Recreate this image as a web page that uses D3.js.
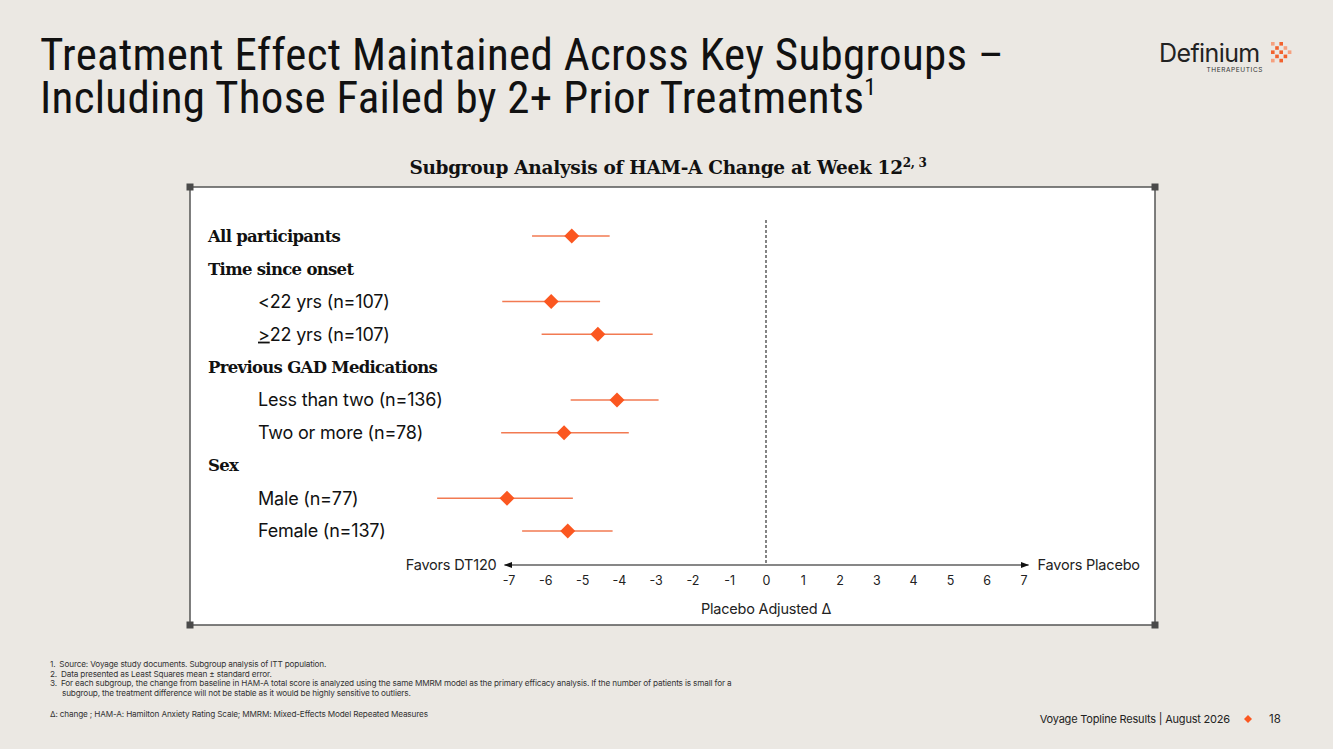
<!DOCTYPE html>
<html>
<head>
<meta charset="utf-8">
<script src="https://cdn.jsdelivr.net/npm/d3@7"></script>
<style>
  body { margin: 0; background: #ebe8e3; }
  svg { display: block; }
</style>
</head>
<body>
<div id="chart"></div>
<script>
// rows of the forest plot, top to bottom
var rowLabels = ["All participants", "Time since onset", "<22 yrs (n=107)", ">22 yrs (n=107)",
                 "Previous GAD Medications", "Less than two (n=136)", "Two or more (n=78)",
                 "Sex", "Male (n=77)", "Female (n=137)"]
var rowIsHeader = [true, true, false, false, true, false, false, true, false, false]
// placebo adjusted delta (LS mean) and +/- SE bounds, null for header rows
var estimate = [-5.28, null, -5.84, -4.57, null, -4.05, -5.49, null, -7.04, -5.39]
var lower    = [-6.36, null, -7.17, -6.10, null, -5.31, -7.20, null, -8.94, -6.63]
var upper    = [-4.25, null, -4.51, -3.08, null, -2.92, -3.73, null, -5.25, -4.17]
var xTicks = [-7, -6, -5, -4, -3, -2, -1, 0, 1, 2, 3, 4, 5, 6, 7]

var footnotes = [
  "1.\u2002Source: Voyage study documents. Subgroup analysis of ITT population.",
  "2.\u2002Data presented as Least Squares mean \u00b1 standard error.",
  "3.\u2002For each subgroup, the change from baseline in HAM-A total score is analyzed using the same MMRM model as the primary efficacy analysis. If the number of patients is small for a",
  "\u2003\u2002subgroup, the treatment difference will not be stable as it would be highly sensitive to outliers."
]

var width = 1333, height = 749
var orange = "#fb5720"
var sans = "Inter, 'Open Sans', sans-serif"
var serif = "'DejaVu Serif', 'Liberation Serif', serif"

var svg = d3.select("#chart").append("svg")
            .attr("width", width)
            .attr("height", height)

svg.append("rect").attr("width", width).attr("height", height).attr("fill", "#ebe8e3")

// slide title
var title = svg.append("text")
    .attr("font-family", "'Liberation Sans Narrow', 'Roboto Condensed', sans-serif")
    .attr("font-size", 45)
    .attr("letter-spacing", 0.3)
    .attr("fill", "#111")
title.append("tspan").attr("x", 40).attr("y", 70).text("Treatment Effect Maintained Across Key Subgroups \u2013")
title.append("tspan").attr("x", 40).attr("y", 113).text("Including Those Failed by 2+ Prior Treatments")
title.append("tspan").attr("font-size", 24).attr("dy", -18).text("1")

// logo
svg.append("text").attr("x", 1159).attr("y", 62)
   .attr("font-family", sans).attr("font-size", 25).attr("fill", "#222")
   .attr("letter-spacing", -0.6).text("Definium")
svg.append("text").attr("x", 1263).attr("y", 72).attr("text-anchor", "end")
   .attr("font-family", sans).attr("font-size", 6.5).attr("fill", "#333")
   .attr("letter-spacing", 0.6).text("THERAPEUTICS")
var logoDots = [[0,0],[2,0],[1,1],[3,1],[0,2],[2,2],[4,2],[1,3],[3,3],[0,4],[2,4]]
svg.append("g").attr("transform", "translate(1271,42)")
   .selectAll("rect").data(logoDots).enter().append("rect")
   .attr("x", d => d[0] * 4.2).attr("y", d => d[1] * 4.2)
   .attr("width", 3.6).attr("height", 3.6)
   .attr("fill", (d, i) => i % 3 == 0 ? "#f6a07e" : "#f2622e")

// chart subtitle
var sub = svg.append("text").attr("x", 668).attr("y", 174).attr("text-anchor", "middle")
   .attr("font-family", serif).attr("font-weight", "bold").attr("font-size", 18.5)
   .attr("letter-spacing", -0.3).attr("fill", "#111")
sub.append("tspan").text("Subgroup Analysis of HAM-A Change at Week 12")
sub.append("tspan").attr("font-size", 12).attr("dy", -7).text("2, 3")

// framed panel
var box = {x0: 190, y0: 187, x1: 1155, y1: 625}
svg.append("rect").attr("x", box.x0).attr("y", box.y0)
   .attr("width", box.x1 - box.x0).attr("height", box.y1 - box.y0)
   .attr("fill", "#fff").attr("stroke", "#555").attr("stroke-width", 1.5)
svg.selectAll(".corner").data([[box.x0, box.y0], [box.x1, box.y0], [box.x0, box.y1], [box.x1, box.y1]])
   .enter().append("rect").attr("class", "corner")
   .attr("x", d => d[0] - 3.5).attr("y", d => d[1] - 3.5)
   .attr("width", 7).attr("height", 7).attr("fill", "#4a4a4a")

// scales
var x = d3.scaleLinear().domain([-7, 7]).range([508.5, 1023.5])
var y = d3.scalePoint().domain(d3.range(rowLabels.length)).range([236, 531])
var axisY = 565

// row labels
var labels = svg.append("g").selectAll("text").data(rowLabels).enter().append("text")
    .attr("x", (d, i) => rowIsHeader[i] ? 208 : 258)
    .attr("y", (d, i) => y(i))
    .attr("dy", "0.35em")
    .attr("font-family", (d, i) => rowIsHeader[i] ? serif : sans)
    .attr("font-weight", (d, i) => rowIsHeader[i] ? "bold" : "normal")
    .attr("letter-spacing", (d, i) => rowIsHeader[i] ? -0.7 : -0.2)
    .attr("font-size", (d, i) => rowIsHeader[i] ? 16.5 : 18)
    .attr("fill", "#111")
labels.each(function(d) {
  var el = d3.select(this)
  if (d[0] == ">") {
    el.append("tspan").attr("text-decoration", "underline").text(">")
    el.append("tspan").text(d.slice(1))
  } else {
    el.text(d)
  }
})

// zero reference line
svg.append("line")
   .attr("x1", x(0)).attr("x2", x(0)).attr("y1", 220).attr("y2", axisY)
   .attr("stroke", "#333").attr("stroke-width", 1.2).attr("stroke-dasharray", "3,2")

// axis with arrows
var defs = svg.append("defs")
defs.append("marker").attr("id", "arr").attr("viewBox", "0 0 10 10")
    .attr("refX", 9).attr("refY", 5).attr("markerWidth", 7).attr("markerHeight", 7)
    .attr("orient", "auto-start-reverse")
    .append("path").attr("d", "M0,1.5 L10,5 L0,8.5 Z").attr("fill", "#111")
svg.append("line")
   .attr("x1", x(-7) - 4).attr("x2", x(7) + 5).attr("y1", axisY).attr("y2", axisY)
   .attr("stroke", "#111").attr("stroke-width", 1.2)
   .attr("marker-start", "url(#arr)").attr("marker-end", "url(#arr)")

var xAxis = svg.append("g").attr("transform", "translate(0," + (axisY + 4) + ")")
   .call(d3.axisBottom(x).tickValues(xTicks).tickSize(0).tickPadding(7).tickFormat(d3.format("d")))
xAxis.select(".domain").remove()
xAxis.selectAll("text").attr("font-family", sans).attr("font-size", 12.5).attr("fill", "#222")
     .text(d => d < 0 ? "-" + Math.abs(d) : d)

svg.append("text").attr("x", x(-7) - 12).attr("y", axisY).attr("dy", "0.35em")
   .attr("text-anchor", "end").attr("font-family", sans).attr("font-size", 14.5).attr("fill", "#222")
   .attr("letter-spacing", -0.2).text("Favors DT120")
svg.append("text").attr("x", x(7) + 14).attr("y", axisY).attr("dy", "0.35em")
   .attr("font-family", sans).attr("font-size", 14.5).attr("fill", "#222")
   .attr("letter-spacing", -0.2).text("Favors Placebo")
svg.append("text").attr("x", x(0)).attr("y", 614).attr("text-anchor", "middle")
   .attr("font-family", sans).attr("font-size", 14.5).attr("fill", "#222")
   .attr("letter-spacing", -0.2).text("Placebo Adjusted \u0394")

// error bars and diamonds
var pts = d3.range(rowLabels.length).filter(i => estimate[i] != null)
svg.append("g").selectAll("line").data(pts).enter().append("line")
   .attr("x1", i => x(lower[i])).attr("x2", i => x(upper[i]))
   .attr("y1", i => y(i)).attr("y2", i => y(i))
   .attr("stroke", "#f27a52").attr("stroke-width", 1.5)
svg.append("g").selectAll("path").data(pts).enter().append("path")
   .attr("transform", i => "translate(" + x(estimate[i]) + "," + y(i) + ")")
   .attr("d", "M0,-7.5 L7.5,0 L0,7.5 L-7.5,0 Z")
   .attr("fill", orange)

// footnotes
svg.append("g").selectAll("text").data(footnotes).enter().append("text")
   .attr("x", 50).attr("y", (d, i) => 667 + i * 9.5)
   .attr("font-family", sans).attr("font-size", 8.2).attr("fill", "#333")
   .attr("letter-spacing", -0.15).text(d => d)
svg.append("text").attr("x", 50).attr("y", 717)
   .attr("font-family", sans).attr("font-size", 8.2).attr("fill", "#333")
   .attr("letter-spacing", -0.15)
   .text("\u0394: change ; HAM-A: Hamilton Anxiety Rating Scale; MMRM: Mixed-Effects Model Repeated Measures")

// footer
svg.append("text").attr("x", 1230).attr("y", 723).attr("text-anchor", "end")
   .attr("font-family", sans).attr("font-size", 11).attr("fill", "#222")
   .attr("letter-spacing", -0.2).text("Voyage Topline Results | August 2026")
svg.append("path").attr("transform", "translate(1248,719)")
   .attr("d", "M0,-4 L4,0 L0,4 L-4,0 Z").attr("fill", orange)
svg.append("text").attr("x", 1269).attr("y", 723)
   .attr("font-family", sans).attr("font-size", 11.5).attr("fill", "#222").text("18")
</script>
</body>
</html>
